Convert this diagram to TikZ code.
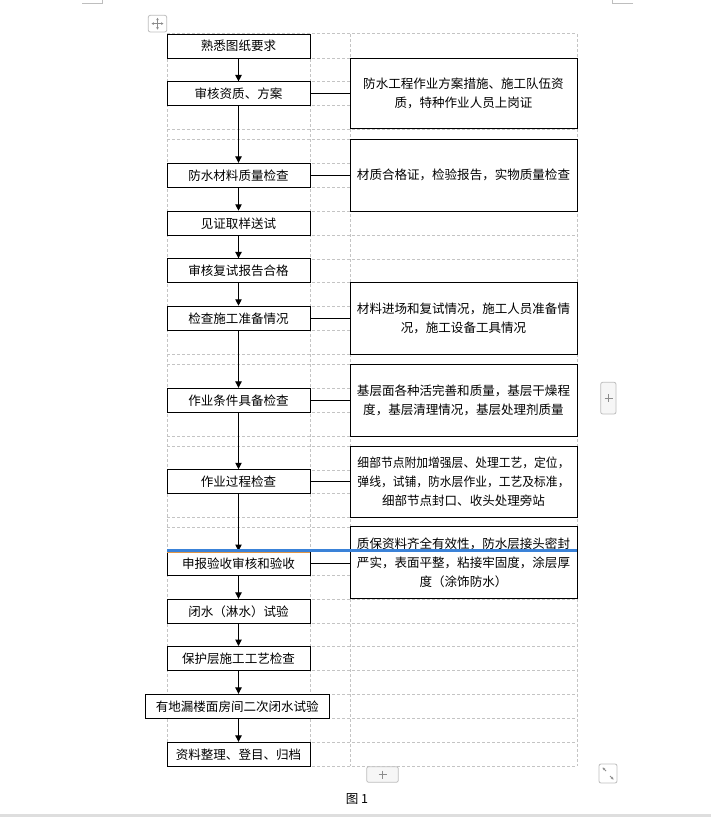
\documentclass[tikz,border=0pt]{standalone}
\usepackage{fontspec}
\setmainfont{Noto Sans CJK SC}
\usetikzlibrary{arrows.meta}
\definecolor{gridgray}{RGB}{196,196,196}
\definecolor{selblue}{RGB}{58,130,216}
\definecolor{selorange}{RGB}{226,150,70}
\definecolor{uigray}{RGB}{140,140,140}
\definecolor{uiborder}{RGB}{190,190,190}
\definecolor{uifill}{RGB}{246,246,246}
\definecolor{bandgray}{RGB}{222,222,222}
\begin{document}
\begin{tikzpicture}[x=0.75pt,y=-0.75pt,
  grid/.style={draw=gridgray,line width=0.75pt,dash pattern=on 2.25pt off 1.5pt},
  txt/.style={font=\fontsize{9.4pt}{14.25pt}\selectfont},
  lbox/.style={txt,draw=black,line width=0.75pt,fill=white,minimum width=107.25pt,minimum height=18pt,inner sep=0pt,text height=8.3pt,text depth=1.1pt},
  rbox/.style={txt,draw=black,line width=0.75pt,fill=white,minimum width=170.25pt,minimum height=54pt,inner sep=0pt,align=center},
  flow/.style={line width=0.75pt,-{Triangle[length=4.8pt,width=4.8pt]}},
  link/.style={line width=0.75pt},
  uibtn/.style={draw=uiborder,fill=uifill,line width=0.6pt,rounded corners=1.5pt},
  uiline/.style={draw=uigray,line width=0.6pt},
]
\useasboundingbox (0,0) rectangle (711,817);
\fill[white] (0,0) rectangle (711,817);

% table grid
\foreach \yy in {34,58.3,82,105.7,129,139,163.3,187.3,211,235.3,259.3,282.3,306.3,330,354.3,364,388.3,412.3,436,446,470,493.3,517,527,551.7,575,599.3,623.3,646.7,670.3,694.3,718.3,742.3,766.3}
  \draw[grid] (167,\yy) -- (577,\yy);
\foreach \xx in {167,310,350,577}
  \draw[grid] (\xx,34) -- (\xx,766.3);

% left column boxes
\node[lbox] (A) at (238.5,46.2) {熟悉图纸要求};
\node[lbox] (B) at (238.5,93.9) {审核资质、方案};
\node[lbox] (C) at (238.5,175.3) {防水材料质量检查};
\node[lbox] (D) at (238.5,223.2) {见证取样送试};
\node[lbox] (E) at (238.5,270.8) {审核复试报告合格};
\node[lbox] (F) at (238.5,318.2) {检查施工准备情况};
\node[lbox] (G) at (238.5,400.3) {作业条件具备检查};
\node[lbox] (H) at (238.5,481.7) {作业过程检查};
\node[lbox] (I) at (238.5,563.4) {申报验收审核和验收};
\node[lbox] (J) at (238.5,611.3) {闭水（淋水）试验};
\node[lbox] (K) at (238.5,658.5) {保护层施工工艺检查};
\node[lbox,minimum width=138pt] (L) at (237.3,706.3) {有地漏楼面房间二次闭水试验};
\node[lbox] (M) at (238.5,754.3) {资料整理、登目、归档};
\coordinate (ax) at (238.5,0);

% right column boxes
\node[rbox,minimum height=53pt] (R1) at (463.5,93.65) {防水工程作业方案措施、施工队伍资\\质，特种作业人员上岗证};
\node[rbox] (R2) at (463.5,175) {材质合格证，检验报告，实物质量检查};
\node[rbox] (R3) at (463.5,318.3) {材料进场和复试情况，施工人员准备情\\况，施工设备工具情况};
\node[rbox] (R4) at (463.5,400) {基层面各种活完善和质量，基层干燥程\\度，基层清理情况，基层处理剂质量};
\node[rbox,minimum height=53.25pt] (R5) at (463.5,481.5) {\scalebox{0.94}[1]{细部节点附加增强层、处理工艺，定位，}\\\scalebox{0.94}[1]{弹线，试铺，防水层作业，工艺及标准，}\\细部节点封口、收头处理旁站};
\node[rbox,minimum height=53.8pt] (R6) at (463.5,562.85) {质保资料齐全有效性，防水层接头密封\\严实，表面平整，粘接牢固度，涂层厚\\度（涂饰防水）};

% flow arrows
\foreach \u/\v in {A/B,B/C,C/D,D/E,E/F,F/G,G/H,H/I,I/J,J/K,K/L,L/M}
  \draw[flow] (\u.south -| ax) -- (\v.north -| ax);

% side links
\foreach \u/\v in {B/R1,C/R2,F/R3,G/R4,H/R5,I/R6}
  \draw[link] (\u.east) -- (\u.east -| \v.west);

% selection line
\draw[selorange,line width=0.5pt] (167,552.6) -- (310,552.6);
\draw[selblue,line width=2.5pt] (167,550.7) -- (577,550.7);

% caption
\node[txt] (cap) at (357,799) {图 1};

% UI elements
\draw[uibtn] (366.7,766.7) rectangle (398.3,782.3);
\draw[uiline] (378.5,774.5) -- (386.5,774.5) (382.5,770.5) -- (382.5,778.5);
\draw[uibtn] (600.7,382.3) rectangle (616,414);
\draw[uiline] (604.5,398) -- (612.5,398) (608.5,394) -- (608.5,402);
\draw[uibtn,fill=white] (148.3,15.3) rectangle (166.7,32);
\draw[uiline,line width=0.5pt,{Stealth[length=1.8pt,width=2pt]}-{Stealth[length=1.8pt,width=2pt]}] (151.5,23.6) -- (163.5,23.6);
\draw[uiline,line width=0.5pt,{Stealth[length=1.8pt,width=2pt]}-{Stealth[length=1.8pt,width=2pt]}] (157.5,17.8) -- (157.5,29.6);
\draw[uibtn,fill=white] (599,764) rectangle (617,783);
\draw[uiline,line width=0.6pt,-{Stealth[length=2pt,width=2.2pt]}] (606,771) -- (602.5,767.5);
\draw[uiline,line width=0.6pt,-{Stealth[length=2pt,width=2.2pt]}] (610,776) -- (613.5,779.5);
\draw[uiborder,line width=0.6pt] (82,3.3) -- (102,3.3) -- (102,0);
\draw[uiborder,line width=0.6pt] (633,3.3) -- (612,3.3) -- (612,0);
\fill[bandgray] (0,814) rectangle (711,817);
\end{tikzpicture}
\end{document}
